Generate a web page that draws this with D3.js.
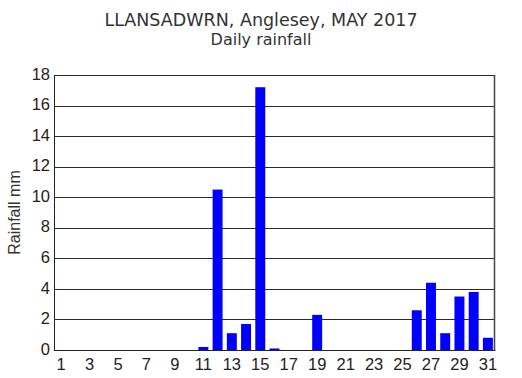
<!DOCTYPE html>
<html>
<head>
<meta charset="utf-8">
<script src="https://cdn.jsdelivr.net/npm/d3@7"></script>
<style>
  body { margin: 0; background: #fff; }
</style>
</head>
<body>
<div id="chart"></div>
<script>
// daily rainfall, May 2017
var days = d3.range(1, 32)
var rain = [0, 0, 0, 0, 0, 0, 0, 0, 0, 0,
            0.2, 10.5, 1.1, 1.7, 17.2, 0.1, 0, 0, 2.3, 0,
            0, 0, 0, 0, 0, 2.6, 4.4, 1.1, 3.5, 3.8, 0.8]
var yTicks = [0, 2, 4, 6, 8, 10, 12, 14, 16, 18]
var titleLines = ["LLANSADWRN, Anglesey, MAY 2017", "Daily rainfall"]

var W = 522, H = 378
var margin = { top: 75, right: 27, bottom: 28, left: 54 }
var width = W - margin.left - margin.right
var height = H - margin.top - margin.bottom

var svg = d3.select("#chart").append("svg")
            .attr("width", W)
            .attr("height", H)

svg.selectAll(".title")
   .data(titleLines)
   .enter().append("text")
   .attr("class", "title")
   .attr("x", 261)
   .attr("y", function(d, i) { return i == 0 ? 26 : 45 })
   .attr("text-anchor", "middle")
   .attr("font-family", "DejaVu Sans, Verdana, sans-serif")
   .attr("font-size", function(d, i) { return i == 0 ? 17.5 : 16 })
   .attr("fill", "#333")
   .text(function(d) { return d })

var g = svg.append("g")
           .attr("transform", "translate(" + margin.left + "," + margin.top + ")")

var x = d3.scaleBand().domain(days).range([0, width]).paddingInner(0.3).paddingOuter(0.15)
var y = d3.scaleLinear().domain([0, 18]).range([height, 0])

// gridlines
g.selectAll(".grid")
 .data(yTicks)
 .enter().append("line")
 .attr("x1", 0).attr("x2", width)
 .attr("y1", function(d) { return Math.round(y(d)) + 0.5 })
 .attr("y2", function(d) { return Math.round(y(d)) + 0.5 })
 .attr("stroke", "#2b2b2b")
 .attr("stroke-width", 1)

// frame sides
g.append("line").attr("x1", 0.5).attr("x2", 0.5).attr("y1", 0).attr("y2", height)
 .attr("stroke", "#222")
g.append("line").attr("x1", width - 0.5).attr("x2", width - 0.5).attr("y1", 0).attr("y2", height)
 .attr("stroke", "#444").attr("stroke-width", 1.5)

// bars
g.selectAll(".bar")
 .data(days)
 .enter().append("rect")
 .attr("class", "bar")
 .attr("x", function(d) { return x(d) })
 .attr("width", x.bandwidth())
 .attr("y", function(d, i) { return y(rain[i]) })
 .attr("height", function(d, i) { return height - y(rain[i]) })
 .attr("fill", "#0000ff")

// axes
var yAxis = d3.axisLeft(y).tickValues(yTicks).tickSize(0).tickPadding(4)
var gy = g.append("g").call(yAxis)
gy.select(".domain").remove()
gy.selectAll("text")
  .attr("font-family", "Liberation Sans, Arial, sans-serif")
  .attr("font-size", 16.5)
  .attr("dy", "0.25em")
  .attr("fill", "#222")

var xAxis = d3.axisBottom(x).tickValues(days.filter(function(d) { return d % 2 == 1 })).tickSize(0).tickPadding(8)
var gx = g.append("g").attr("transform", "translate(0," + height + ")").call(xAxis)
gx.select(".domain").attr("stroke", "#222")
gx.selectAll("text")
  .attr("font-family", "Liberation Sans, Arial, sans-serif")
  .attr("font-size", 16.5)
  .attr("fill", "#222")

svg.append("text")
   .attr("transform", "translate(20," + (margin.top + height / 2) + ") rotate(-90)")
   .attr("text-anchor", "middle")
   .attr("font-family", "Liberation Sans, Arial, sans-serif")
   .attr("font-size", 16)
   .attr("fill", "#333")
   .text("Rainfall mm")
</script>
</body>
</html>
